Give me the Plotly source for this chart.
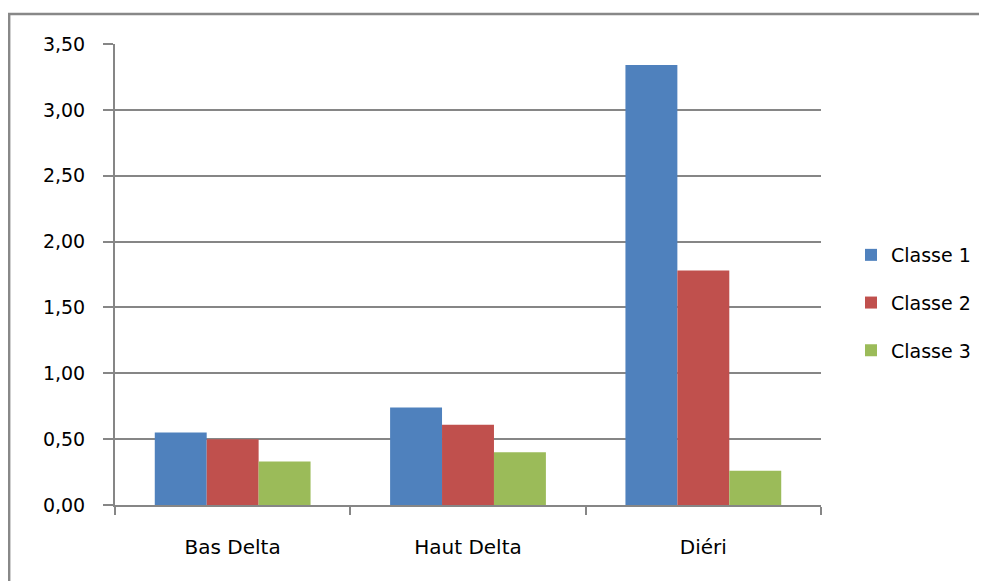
import plotly.graph_objects as go

categories = ["Bas Delta", "Haut Delta", "Diéri"]
classe1 = [0.55, 0.74, 3.34]
classe2 = [0.50, 0.61, 1.78]
classe3 = [0.33, 0.40, 0.26]
series_names = ["Classe 1", "Classe 2", "Classe 3"]
colors = ["#4F81BD", "#C0504D", "#9BBB59"]
ytick_vals = [0, 0.5, 1.0, 1.5, 2.0, 2.5, 3.0, 3.5]

OFF = 8  # page body margin
W, H = 987 - OFF, 581 - OFF
L, T = 115 - OFF, 44 - OFF
pw, ph = 707, 461
R, B = W - L - pw, H - T - ph

def px_x(p):
    return (p - OFF - L) / pw

def px_y(p):
    return (T + ph - (p - OFF)) / ph

fig = go.Figure()
for name, vals, col in zip(series_names, [classe1, classe2, classe3], colors):
    fig.add_trace(go.Bar(name=name, x=categories, y=vals, marker_color=col,
                         marker_line_width=0, legendgroup=name))

font_family = "'DejaVu Sans', sans-serif"
fig.update_layout(
    width=W, height=H,
    margin=dict(l=L, r=R, t=T, b=B, pad=0),
    paper_bgcolor="white", plot_bgcolor="white",
    separators=", ",
    barmode="group", bargap=0.338, bargroupgap=0,
    font=dict(family=font_family, size=19, color="#000000"),
    showlegend=True,
    legend=dict(x=px_x(851), y=px_y(303), xanchor="left", yanchor="middle",
                traceorder="grouped", tracegroupgap=20,
                font=dict(size=19, family=font_family),
                bgcolor="rgba(0,0,0,0)"),
    xaxis=dict(showgrid=False, showline=True, linecolor="#868686", linewidth=2,
               ticks="outside", tickson="boundaries", ticklen=8, tickwidth=2,
               tickcolor="#868686", ticklabelstandoff=23, zeroline=False,
               tickfont=dict(size=20)),
    yaxis=dict(range=[0, 3.5], tickvals=ytick_vals, tickformat=".2f",
               showgrid=True, gridcolor="#868686", gridwidth=1.5,
               showline=True, linecolor="#868686", linewidth=2,
               ticks="outside", ticklen=10, tickwidth=1.5, tickcolor="#868686",
               ticklabelstandoff=14, zeroline=False),
    shapes=[dict(type="path", xref="paper", yref="paper",
                 path=f"M {px_x(9)} {px_y(600)} L {px_x(9)} {px_y(14)} L {px_x(1000)} {px_y(14)}",
                 line=dict(color="#888888", width=2.5))],
)

fig.write_html("out.html")
